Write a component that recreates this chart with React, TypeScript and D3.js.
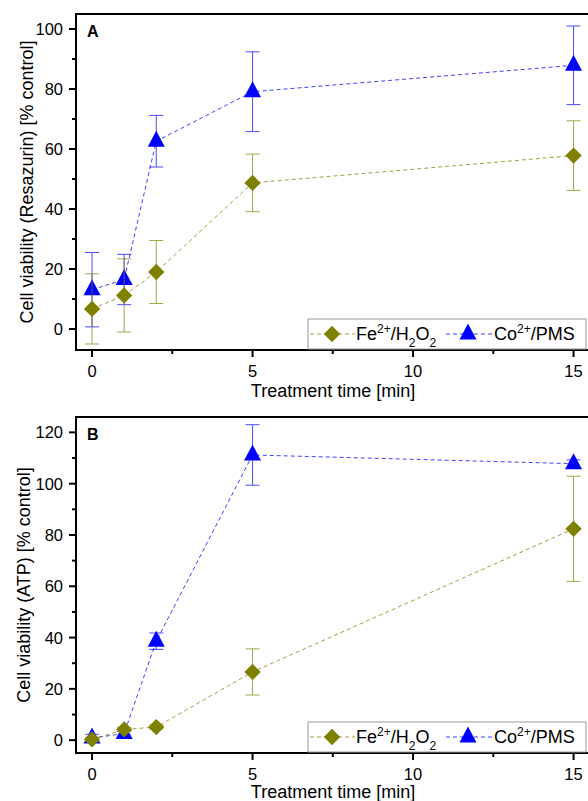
import React from 'react';
import * as d3 from 'd3';

// treatment times [min]
const times = [0, 1, 2, 5, 15];

// Panel A: resazurin assay
const feResazurin = [6.7, 11.2, 19.0, 48.7, 57.8];
const feResazurinErr = [11.7, 12.2, 10.5, 9.6, 11.6];
const coResazurin = [13.1, 16.5, 62.6, 79.1, 87.9];
const coResazurinErr = [12.4, 8.4, 8.6, 13.3, 13.1];

// Panel B: ATP assay
const feATP = [0.3, 4.2, 5.1, 26.6, 82.4];
const feATPErr = [0.8, 0.8, 0.8, 9.0, 20.5];
const coATP = [0.8, 2.6, 38.6, 111.2, 107.8];
const coATPErr = [1.5, 1.0, 3.2, 11.8, 1.5];

const xMajor = [0, 5, 10, 15];
const xMinor = [2.5, 7.5, 12.5];

const FE = '#808000';
const CO = '#0000ff';
const FONT = '"Liberation Sans", Arial, sans-serif';

const diamond = d3.symbol().type(d3.symbolDiamond2).size(170)();
const triangle = 'M0,-10.5L8.5,5.5L-8.5,5.5Z';

function Panel({ top, label, yTitle, yDomain, yMajor, yMinor, fe, feErr, co, coErr, titleX, xTitleY }) {
  const plotTop = top;
  const plotBottom = top + 336;
  const x = d3.scaleLinear().domain([-0.5, 15.5]).range([76, 589.6]);
  const y = d3.scaleLinear().domain(yDomain).range([plotBottom, plotTop]);
  const line = d3.line<number>().x((d, i) => x(times[i])).y(d => y(d));

  const series = [
    { vals: co, err: coErr, color: CO, marker: triangle },
    { vals: fe, err: feErr, color: FE, marker: diamond },
  ];

  return (
    <g fontFamily={FONT}>
      {/* dashed connecting lines */}
      {series.map((s, si) => (
        <path key={'l' + si} d={line(s.vals) || ''} fill="none" stroke={s.color}
          strokeWidth={1} strokeDasharray="4,3" opacity={0.75} />
      ))}
      {/* error bars + markers */}
      {series.map((s, si) => (
        <g key={'s' + si}>
          {s.vals.map((v, i) => {
            const cx = x(times[i]);
            const y1 = y(v + s.err[i]);
            const y2 = y(v - s.err[i]);
            return (
              <g key={i} stroke={s.color} strokeWidth={1} opacity={0.7}>
                <line x1={cx} x2={cx} y1={y1} y2={y2} />
                <line x1={cx - 7} x2={cx + 7} y1={y1} y2={y1} />
                <line x1={cx - 7} x2={cx + 7} y1={y2} y2={y2} />
              </g>
            );
          })}
          {s.vals.map((v, i) => (
            <path key={'m' + i} d={s.marker} transform={`translate(${x(times[i])},${y(v)})`} fill={s.color} />
          ))}
        </g>
      ))}

      {/* frame */}
      <rect x={76} y={plotTop} width={530} height={plotBottom - plotTop} fill="none" stroke="#000" strokeWidth={2} />

      {/* y ticks */}
      {yMajor.map(t => (
        <g key={'ym' + t}>
          <line x1={69} x2={76} y1={y(t)} y2={y(t)} stroke="#000" strokeWidth={2} />
          <text x={63} y={y(t) + 6} fontSize={16.5} textAnchor="end">{t}</text>
        </g>
      ))}
      {yMinor.map(t => (
        <line key={'yn' + t} x1={72} x2={76} y1={y(t)} y2={y(t)} stroke="#000" strokeWidth={2} />
      ))}

      {/* x ticks */}
      {xMajor.map(t => (
        <g key={'xm' + t}>
          <line x1={x(t)} x2={x(t)} y1={plotBottom} y2={plotBottom + 7} stroke="#000" strokeWidth={2} />
          <text x={x(t)} y={plotBottom + 27} fontSize={16.5} textAnchor="middle">{t}</text>
        </g>
      ))}
      {xMinor.map(t => (
        <line key={'xn' + t} x1={x(t)} x2={x(t)} y1={plotBottom} y2={plotBottom + 4} stroke="#000" strokeWidth={2} />
      ))}

      <text x={333} y={xTitleY} fontSize={18} textAnchor="middle">Treatment time [min]</text>
      <text transform={`translate(${titleX},${(plotTop + plotBottom) / 2}) rotate(-90)`} fontSize={18} textAnchor="middle">{yTitle}</text>
      <text x={87} y={top + 23} fontSize={16} fontWeight="bold">{label}</text>

      {/* legend */}
      <g>
        <rect x={308} y={plotBottom - 31} width={278} height={30} fill="#fff" stroke="#999" strokeWidth={1} />
        <line x1={310} x2={355} y1={plotBottom - 16} y2={plotBottom - 16} stroke={FE} strokeWidth={1} strokeDasharray="4,3" opacity={0.75} />
        <path d={diamond} transform={`translate(332,${plotBottom - 16})`} fill={FE} />
        <text x={356} y={plotBottom - 10} fontSize={18}>
          Fe<tspan fontSize={12} baselineShift="super">2+</tspan>/H<tspan fontSize={12} baselineShift="sub">2</tspan>O<tspan fontSize={12} baselineShift="sub">2</tspan>
        </text>
        <line x1={446} x2={492} y1={plotBottom - 16} y2={plotBottom - 16} stroke={CO} strokeWidth={1} strokeDasharray="4,3" opacity={0.75} />
        <path d={triangle} transform={`translate(468,${plotBottom - 16})`} fill={CO} />
        <text x={494} y={plotBottom - 10} fontSize={18}>
          Co<tspan fontSize={12} baselineShift="super">2+</tspan>/PMS
        </text>
      </g>
    </g>
  );
}

export default function App() {
  return (
    <svg width={588} height={801} style={{ position: 'absolute', left: 0, top: 0, background: '#fff' }}>
      <Panel top={14} label="A" yTitle="Cell viability (Resazurin) [% control]"
        yDomain={[-7, 105]} yMajor={[0, 20, 40, 60, 80, 100]} yMinor={[10, 30, 50, 70, 90]}
        fe={feResazurin} feErr={feResazurinErr} co={coResazurin} coErr={coResazurinErr}
        titleX={33} xTitleY={397} />
      <Panel top={417} label="B" yTitle="Cell viability (ATP) [% control]"
        yDomain={[-5, 126]} yMajor={[0, 20, 40, 60, 80, 100, 120]} yMinor={[10, 30, 50, 70, 90, 110]}
        fe={feATP} feErr={feATPErr} co={coATP} coErr={coATPErr}
        titleX={30} xTitleY={798} />
    </svg>
  );
}
